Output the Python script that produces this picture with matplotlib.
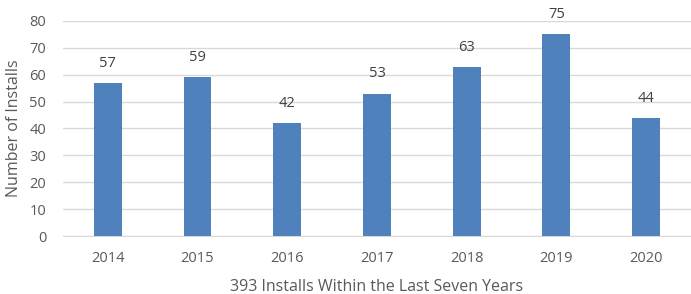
import matplotlib
matplotlib.use('Agg')
import matplotlib.pyplot as plt

years = ['2014', '2015', '2016', '2017', '2018', '2019', '2020']
installs = [57, 59, 42, 53, 63, 75, 44]
y_ticks = [0, 10, 20, 30, 40, 50, 60, 70, 80]

plt.rcParams['font.family'] = ['Open Sans', 'DejaVu Sans']
grey = '#595959'

fig = plt.figure(figsize=(6.91, 2.94), dpi=100)
ax = fig.add_axes([0.091, 0.197, 0.909, 0.732])

x = range(len(years))
bars = ax.bar(x, installs, width=0.31, color='#4F81BD', zorder=3)
for b, v in zip(bars, installs):
    ax.text(b.get_x() + b.get_width() / 2, v + 4.5, str(v),
            ha='center', va='bottom', fontsize=10.5, color='#404040')

ax.set_xlim(-0.5, len(years) - 0.5)
ax.set_ylim(0, 80)
ax.set_yticks(y_ticks)
ax.set_xticks(list(x))
ax.set_xticklabels(years)
ax.grid(axis='y', color='#D9D9D9', linewidth=1, zorder=0)
for s in ['top', 'right', 'left']:
    ax.spines[s].set_visible(False)
ax.spines['bottom'].set_color('#D9D9D9')
ax.tick_params(length=0, labelsize=10.5, colors=grey)
ax.tick_params(axis='x', pad=11)
ax.tick_params(axis='y', pad=12)
ax.set_xlabel('393 Installs Within the Last Seven Years', fontsize=11.5, color=grey, labelpad=9)
ax.set_ylabel('Number of Installs', fontsize=11.5, color=grey, labelpad=5)

fig.savefig('out.png', dpi=100)
